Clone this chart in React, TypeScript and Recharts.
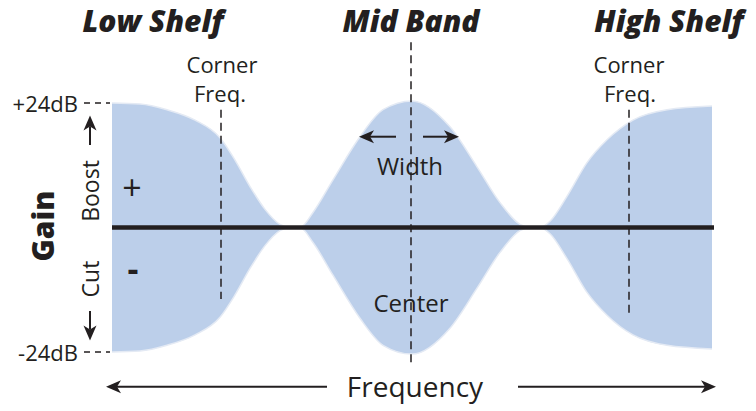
import React from "react";
import {
  Area,
  ComposedChart,
  Customized,
  ReferenceLine,
  XAxis,
  YAxis,
} from "recharts";

// relative position along the frequency axis (0 = left edge, 600 = right edge)
const freq = [
  0, 28, 55, 83, 108, 123, 138, 153, 168, 178, 188, 201, 221, 248, 271, 300,
  338, 365, 388, 408, 418, 428, 438, 455, 475, 495, 521, 555, 600,
];
// boost in dB; the cut side mirrors it
const gain = [
  24, 23.8, 22.7, 20.7, 17.3, 13, 7.9, 3.5, 0.6, 0, 0, 2.9, 9.2, 17.5, 22.7,
  24.4, 19.4, 11.7, 4.8, 0.6, 0, 0, 1.2, 6, 12.5, 16.9, 20.7, 22.7, 23.4,
];
const gainTicks = [24, -24];
const tickLabels = ["+24dB", "-24dB"];

// frequency of the three dashed markers: low corner, mid centre, high corner
const markers = [
  { f: 109, top: 22.7, bottom: -13.8 },
  { f: 299, top: 35.7, bottom: -26.3 },
  { f: 517, top: 22.7, bottom: -17.3 },
];

const data = freq.map((f, i) => ({ f, band: [-gain[i], gain[i]] }));

const INK = "#231f20";
const FONT = "'Open Sans', sans-serif";

function Arrow(props: any) {
  const { x1, y1, x2, y2 } = props;
  if (x1 == null) return null;
  const a = Math.atan2(y2 - y1, x2 - x1);
  const len = 15;
  const w = 6.5;
  const bx = x2 - len * Math.cos(a);
  const by = y2 - len * Math.sin(a);
  const px = -Math.sin(a) * w;
  const py = Math.cos(a) * w;
  const nx = x2 - (len - 4) * Math.cos(a);
  const ny = y2 - (len - 4) * Math.sin(a);
  return (
    <g>
      <line x1={x1} y1={y1} x2={nx} y2={ny} stroke={INK} strokeWidth={2} />
      <path
        d={`M${x2},${y2} L${bx + px},${by + py} L${nx},${ny} L${bx - px},${by - py} Z`}
        fill={INK}
      />
    </g>
  );
}

const arrows = [
  [{ x: -22, y: 15.9 }, { x: -22, y: 21.6 }],
  [{ x: -22, y: -16.1 }, { x: -22, y: -21.8 }],
  [{ x: 215, y: -30.7 }, { x: -6, y: -30.7 }],
  [{ x: 406, y: -30.7 }, { x: 604, y: -30.7 }],
  [{ x: 284, y: 17.5 }, { x: 247, y: 17.5 }],
  [{ x: 311, y: 17.5 }, { x: 347, y: 17.5 }],
];

function GainTick(props: any) {
  const { y, index } = props;
  return (
    <g>
      <text
        x={78}
        y={y}
        textAnchor="end"
        dominantBaseline="central"
        fontSize={22}
        fontFamily={FONT}
        fill={INK}
      >
        {tickLabels[index]}
      </text>
      <line
        x1={84}
        x2={110}
        y1={y}
        y2={y}
        stroke={INK}
        strokeWidth={1.5}
        strokeDasharray="6 5"
      />
    </g>
  );
}

function Titles() {
  const t = { fontFamily: FONT, fill: INK } as const;
  const title = { ...t, fontSize: 30, fontWeight: 800, fontStyle: "italic" } as const;
  return (
    <g>
      <text x={153} y={32} textAnchor="middle" {...title}>Low Shelf</text>
      <text x={411} y={32} textAnchor="middle" {...title}>Mid Band</text>
      <text x={669} y={32} textAnchor="middle" {...title}>High Shelf</text>
      <text x={222} y={73} textAnchor="middle" fontSize={22} {...t}>Corner</text>
      <text x={220} y={102} textAnchor="middle" fontSize={22} {...t}>Freq.</text>
      <text x={629} y={73} textAnchor="middle" fontSize={22} {...t}>Corner</text>
      <text x={630} y={102} textAnchor="middle" fontSize={22} {...t}>Freq.</text>
      <text x={415} y={397} textAnchor="middle" fontSize={28} {...t}>Frequency</text>
      <text
        x={42}
        y={226}
        transform="rotate(-90 42 226)"
        textAnchor="middle"
        dominantBaseline="central"
        fontSize={30}
        fontWeight={800}
        {...t}
      >
        Gain
      </text>
      <text x={90} y={191} transform="rotate(-90 90 191)" textAnchor="middle" dominantBaseline="central" fontSize={23} {...t}>Boost</text>
      <text x={90} y={279} transform="rotate(-90 90 279)" textAnchor="middle" dominantBaseline="central" fontSize={23} {...t}>Cut</text>
    </g>
  );
}

// texts that sit on top of the filled band
function InnerLabels() {
  const t = { fontFamily: FONT, fill: INK } as const;
  return (
    <svg
      width={756}
      height={411}
      style={{ position: "absolute", left: 0, top: 0, pointerEvents: "none" }}
    >
      <text x={410} y={175} textAnchor="middle" fontSize={24} {...t}>Width</text>
      <text x={411} y={312} textAnchor="middle" fontSize={24} {...t}>Center</text>
      <text x={132} y={187} textAnchor="middle" dominantBaseline="central" fontSize={34} {...t}>+</text>
      <text x={133} y={268} textAnchor="middle" dominantBaseline="central" fontSize={34} fontWeight={700} {...t}>-</text>
    </svg>
  );
}

export default function App() {
  return (
    <div style={{ position: "absolute", left: 0, top: 0, width: 756, height: 411, background: "#fff" }}>
      <ComposedChart
        width={756}
        height={411}
        data={data}
        margin={{ top: 97.8, right: 44, bottom: 53.8, left: 0 }}
      >
        <XAxis dataKey="f" type="number" domain={[0, 600]} hide />
        <YAxis
          type="number"
          domain={[-25, 25]}
          ticks={gainTicks}
          width={112}
          axisLine={false}
          tickLine={false}
          tick={<GainTick />}
          interval={0}
        />
        <Area
          type="monotone"
          dataKey="band"
          stroke="#e4eaf4"
          strokeWidth={1.5}
          fill="#bccfea"
          fillOpacity={1}
          isAnimationActive={false}
        />
        {markers.map((m, i) => (
          <ReferenceLine
            key={"m" + i}
            segment={[
              { x: m.f, y: m.top },
              { x: m.f, y: m.bottom },
            ]}
            ifOverflow="visible"
            stroke={INK}
            strokeWidth={1.5}
            strokeDasharray="8 5"
          />
        ))}
        <ReferenceLine
          segment={[
            { x: 0, y: 0 },
            { x: 602, y: 0 },
          ]}
          ifOverflow="visible"
          stroke={INK}
          strokeWidth={4.5}
        />
        {arrows.map((s, i) => (
          <ReferenceLine
            key={"a" + i}
            segment={s}
            ifOverflow="visible"
            shape={(p: any) => <Arrow {...p} />}
          />
        ))}
        <Customized component={Titles} />
      </ComposedChart>
      <InnerLabels />
    </div>
  );
}
